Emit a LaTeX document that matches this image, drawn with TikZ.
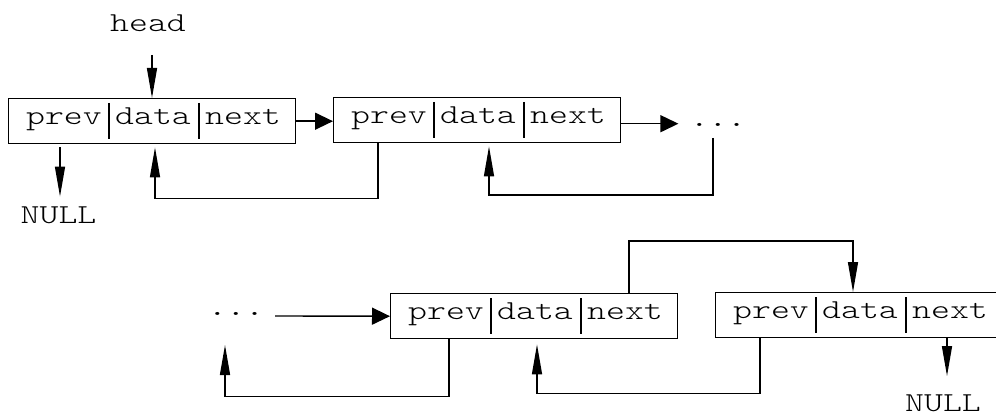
\documentclass[tikz,border=0pt]{standalone}
\usepackage{fontspec}
\usepackage{graphicx}
\usetikzlibrary{arrows.meta,calc}

\newfontfamily\lightmono{Latin Modern Mono Light}

% typewriter label, slightly flattened
\newcommand\mono[1]{\scalebox{1}[0.76]{#1}}

\tikzset{
  cell/.style={draw, line width=1.4pt, minimum width=287pt, minimum height=45pt,
               anchor=north west, inner sep=0pt},
  lbl/.style={anchor=base, inner sep=0pt, font=\fontsize{36}{36}\selectfont\lightmono},
  ellip/.style={anchor=base, inner sep=0pt, font=\fontsize{36}{36}\selectfont\ttfamily},
  wire/.style={line width=1.4pt},
  divider/.style={line width=1.4pt},
  harr/.style={wire, -{Triangle[length=18pt,width=17pt]}},
  varr/.style={wire, -{Triangle[length=30pt,width=10pt]}},
}

% one list node: prev | data | next
\newcommand\recordbox[2]{%
  \node[cell] (#1) at #2 {};
  \node[lbl] (#1p) at ($(#1.north west)+(56,26.5)$) {\mono{prev}};
  \node[lbl] (#1d) at ($(#1.north west)+(145,26.5)$) {\mono{data}};
  \node[lbl] (#1n) at ($(#1.north west)+(235,26.5)$) {\mono{next}};
  \draw[divider] ($(#1.north west)+(101,5)$) -- ($(#1.south west)+(101,-5)$);
  \draw[divider] ($(#1.north west)+(191,5)$) -- ($(#1.south west)+(191,-5)$);
}

\begin{document}
\begin{tikzpicture}[x=1pt,y=-1pt]
\useasboundingbox (0,0) rectangle (996,417);
\clip (0,0) rectangle (996,417);

% nodes of the list
\recordbox{b1}{(8,98)}
\recordbox{b2}{(333,97)}
\recordbox{b3}{(390,293)}
\recordbox{b4}{(715,292)}

% labels
\node[lbl] (head)  at (148,32)  {\mono{head}};
\node[lbl] (nullA) at (58.5,223) {\mono{NULL}};
\node[lbl] (nullB) at (943,411) {\mono{NULL}};
\node[ellip] (dotsA) at (718,127) {\mono{...}};
\node[ellip] (dotsB) at (236,315) {\mono{...}};

% head pointer
\coordinate (headtail) at ($(b1.north west)+(144,-43)$);
\draw[varr] (headtail) -- ($(b1.north west)+(144,0)$);

% first row
\draw[harr] (b1.east) -- (b1.east -| b2.west);
\draw[varr] ($(b1.south west)+(52,3)$) -- ($(nullA.north)+(1.5,-9.5)$);
\draw[varr] ($(b2.south west)+(45,0)$) -- ++(0,55) -| ($(b1.south west)+(147,3)$);
\draw[harr] ($(b2.east)+(0,3.5)$) -- ++(57,0);
\draw[varr] ($(dotsA.base)+(-5,11)$) -- ++(0,57) -| ($(b2.south west)+(156,3)$);

% second row
\draw[harr] ($(dotsB.base east)+(11,1)$) -- (b3.west);
\draw[varr] ($(b3.south west)+(59,0)$) -- ++(0,57) -| ($(dotsB.base)+(-11,30)$);
\draw[varr] ($(b3.north west)+(239,0)$) -- ++(0,-52) -| ($(b4.north west)+(138,0)$);
\draw[varr] ($(b4.south west)+(45,0)$) -- ++(0,55) -| ($(b3.south west)+(147,5)$);
\draw[varr] ($(b4.south west)+(232,0)$) -- ($(nullB.north)+(4,-18)$);
\end{tikzpicture}
\end{document}
